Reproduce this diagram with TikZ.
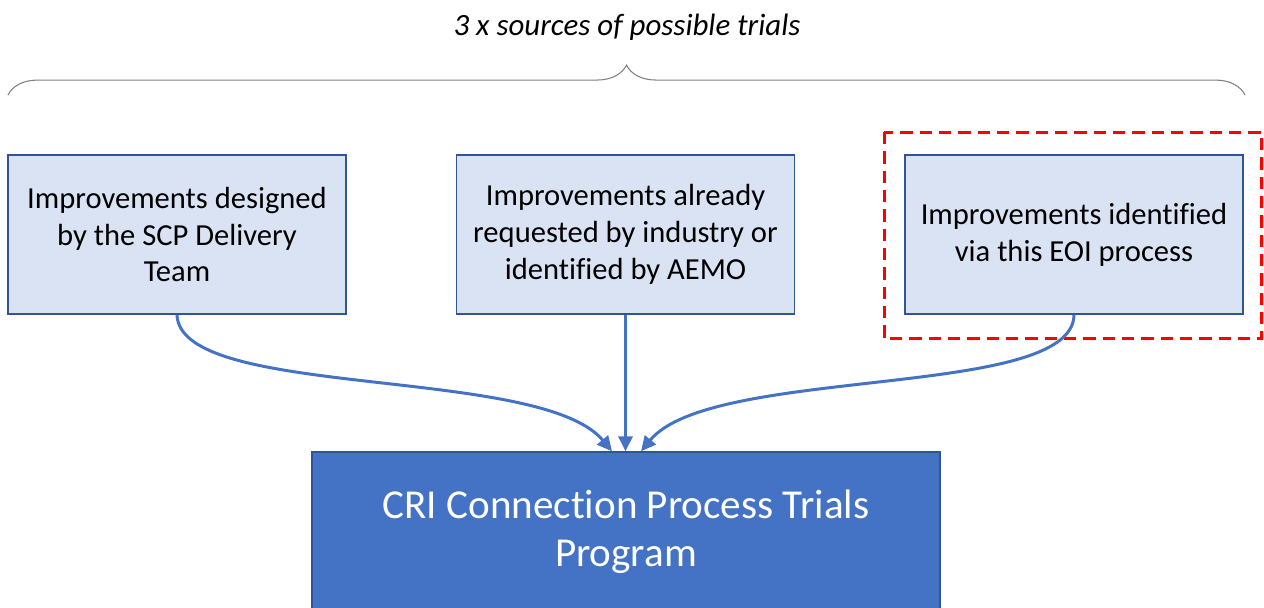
\documentclass[tikz,border=0pt]{standalone}
\usepackage{fontspec}
\setmainfont[RawFeature={-liga;-clig;-calt}]{Carlito}
\usetikzlibrary{calc}
\usetikzlibrary{arrows.meta}
\usetikzlibrary{decorations.pathreplacing}
\definecolor{srcfill}{HTML}{DAE3F3}
\definecolor{srcline}{HTML}{2F5597}
\definecolor{criblue}{HTML}{4472C4}
\tikzset{
    srcbox/.style={draw=srcline, line width=1pt, fill=srcfill, minimum width=6.76cm, minimum height=3.18cm, align=center, font=\fontsize{17.4}{21}\selectfont},
    feed/.style={draw=criblue, line width=1.7pt, -{Triangle[length=8.5pt,width=8pt]}}
}
\begin{document}
\begin{tikzpicture}[x=0.02cm,y=-0.02cm]
\useasboundingbox (0,0) rectangle (1264,608);
\node at (627,27) {\fontsize{17.6}{20}\selectfont\itshape 3 x sources of possible trials};
\draw[gray, line width=0.6pt, decorate, decoration={brace, amplitude=17pt}] (8,95) -- (1245,95);
\foreach \x/\n/\labeltext in {177/src1/{Improvements designed\\by the SCP Delivery\\Team}, 625.5/src2/{Improvements already\\requested by industry or\\identified by AEMO}, 1074/src3/{Improvements identified\\via this EOI process}}{
    \node[srcbox] (\n) at (\x,234.5) {\labeltext};
}
\draw[red, line width=1.7pt, dash pattern=on 7pt off 4pt] ($(src3.north west)+(-20,-22)$) rectangle ($(src3.south east)+(18,24)$);
\node[fill=criblue, draw=srcline, line width=0.8pt, minimum width=12.56cm, minimum height=3.2cm, align=center, text=white, font=\fontsize{23.4}{27.5}\selectfont] (main) at (626,532) {CRI Connection Process Trials\\Program};
\draw[feed] (src1.south) .. controls (180,400) and (540,365) .. ($(main.north)+(-14,0)$);
\draw[feed] (src2.south) -- (src2.south |- main.north);
\draw[feed] (src3.south) .. controls (1073,400) and (712,365) .. ($(main.north)+(15,0)$);
\end{tikzpicture}
\end{document}
